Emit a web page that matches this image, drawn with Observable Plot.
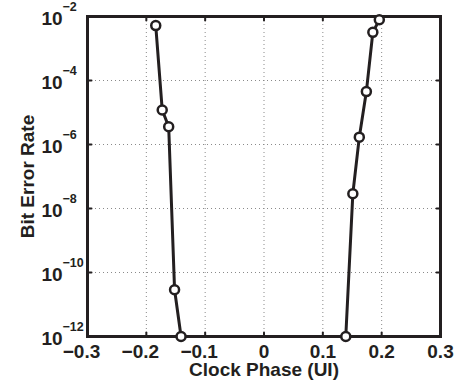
<!DOCTYPE html>
<html>
<head>
<meta charset="utf-8">
<script src="https://cdn.jsdelivr.net/npm/d3@7"></script>
<script src="https://cdn.jsdelivr.net/npm/@observablehq/plot@0.6"></script>
<style>
  html, body { margin: 0; padding: 0; background: #fff; }
  svg text { font-family: "Liberation Sans", Arial, sans-serif; font-weight: bold; }
</style>
</head>
<body>
<div id="chart"></div>
<script>
// Left edge (early clock phase)
const leftPhase = [-0.184, -0.173, -0.162, -0.152, -0.141];
const leftBER   = [5.2e-3, 1.2e-5, 3.6e-6, 2.9e-11, 1e-12];
// Right edge (late clock phase)
const rightPhase = [0.139, 0.151, 0.162, 0.174, 0.185, 0.196];
const rightBER   = [1e-12, 2.9e-8, 1.7e-6, 4.5e-5, 3.2e-3, 7.9e-3];

const xTicks = [-0.3, -0.2, -0.1, 0, 0.1, 0.2, 0.3];
const xTickLabels = ["\u22120.3", "\u22120.2", "\u22120.1", "0", "0.1", "0.2", "0.3"];
const yTicks = [1e-12, 1e-10, 1e-8, 1e-6, 1e-4, 1e-2];
const yExponents = ["\u221212", "\u221210", "\u22128", "\u22126", "\u22124", "\u22122"];

const left = leftPhase.map((x, i) => ({x, y: leftBER[i]}));
const right = rightPhase.map((x, i) => ({x, y: rightBER[i]}));
const xLab = xTicks.map((x, i) => ({x, t: xTickLabels[i]}));
const yLab = yTicks.map((y, i) => ({y, e: yExponents[i]}));

const ink = "#231f20";
const tickShape = {draw(context, l) { context.moveTo(0, 0); context.lineTo(0, -l); }};

const chart = Plot.plot({
  width: 457,
  height: 383,
  marginLeft: 87,
  marginRight: 17,
  marginTop: 16,
  marginBottom: 47,
  style: {fontFamily: "Liberation Sans, Arial, sans-serif", fontWeight: "bold", fontSize: "19px", background: "#fff", color: ink},
  x: {domain: [-0.3, 0.3], axis: null},
  y: {type: "log", domain: [1e-12, 1e-2], axis: null},
  marks: [
    Plot.gridX(xTicks.slice(1, -1), {stroke: "#8a8a8a", strokeOpacity: 1, strokeWidth: 1, strokeDasharray: "1,3"}),
    Plot.gridY(yTicks.slice(1, -1), {stroke: "#8a8a8a", strokeOpacity: 1, strokeWidth: 1, strokeDasharray: "1,3"}),
    // inward ticks
    Plot.vector(xTicks, {x: d => d, frameAnchor: "bottom", length: 4, rotate: 0, anchor: "start", shape: tickShape, stroke: ink, strokeWidth: 2}),
    Plot.vector(xTicks, {x: d => d, frameAnchor: "top", length: 4, rotate: 180, anchor: "start", shape: tickShape, stroke: ink, strokeWidth: 2}),
    Plot.vector(yTicks, {y: d => d, frameAnchor: "left", length: 4, rotate: 90, anchor: "start", shape: tickShape, stroke: ink, strokeWidth: 2}),
    Plot.vector(yTicks, {y: d => d, frameAnchor: "right", length: 4, rotate: -90, anchor: "start", shape: tickShape, stroke: ink, strokeWidth: 2}),
    Plot.frame({stroke: ink, strokeWidth: 3}),
    // x tick labels
    Plot.text(xLab.filter(d => d.x < 0), {x: "x", text: "t", frameAnchor: "bottom", lineAnchor: "middle", textAnchor: "middle", dy: 15.5, dx: -6, fontSize: 19, fill: ink}),
    Plot.text(xLab.filter(d => d.x >= 0), {x: "x", text: "t", frameAnchor: "bottom", lineAnchor: "middle", textAnchor: "middle", dy: 15.5, fontSize: 19, fill: ink}),
    // y tick labels: 10 with superscript exponent
    Plot.text(yLab, {y: "y", text: () => "10", frameAnchor: "left", lineAnchor: "middle", textAnchor: "start", dx: -46, dy: 2, fontSize: 19, fill: ink}),
    Plot.text(yLab, {y: "y", text: "e", frameAnchor: "left", lineAnchor: "middle", textAnchor: "start", dx: -25, dy: -9.5, fontSize: 12.5, fill: ink}),
    // axis titles
    Plot.text(["Clock Phase (UI)"], {frameAnchor: "bottom", lineAnchor: "middle", textAnchor: "middle", dy: 33.4, fontSize: 19, fill: ink}),
    Plot.text(["Bit Error Rate"], {frameAnchor: "left", lineAnchor: "middle", textAnchor: "middle", rotate: -90, dx: -60, fontSize: 19, fill: ink}),
    // data
    Plot.line(left, {x: "x", y: "y", stroke: ink, strokeWidth: 3}),
    Plot.line(right, {x: "x", y: "y", stroke: ink, strokeWidth: 3}),
    Plot.dot(left, {x: "x", y: "y", r: 4.5, fill: "white", stroke: ink, strokeWidth: 2.5}),
    Plot.dot(right, {x: "x", y: "y", r: 4.5, fill: "white", stroke: ink, strokeWidth: 2.5})
  ]
});
document.getElementById("chart").appendChild(chart);
</script>
</body>
</html>
